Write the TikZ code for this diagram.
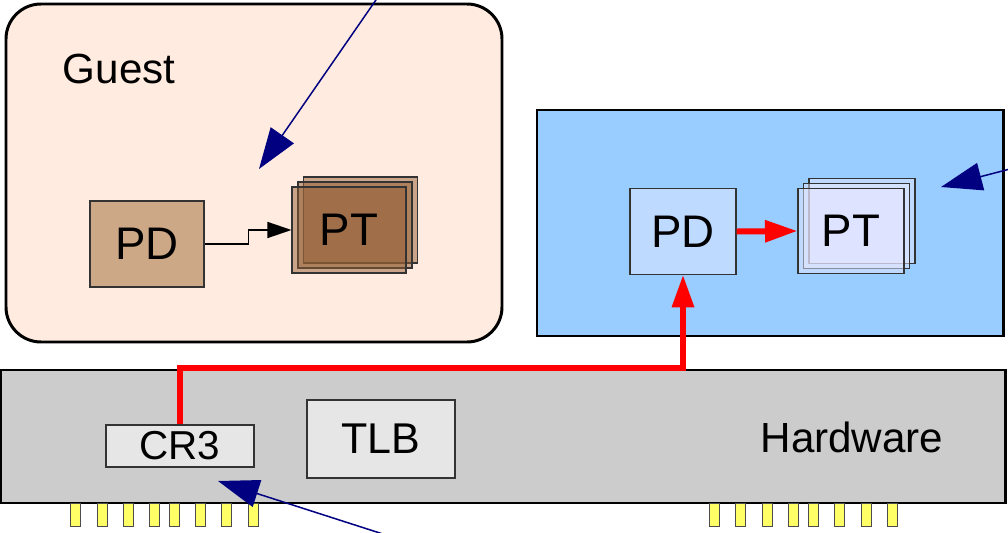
\documentclass[tikz,border=0pt]{standalone}
\usepackage{fontspec}
\setmainfont{Liberation Sans}
\usetikzlibrary{arrows.meta}

\definecolor{guestbg}{HTML}{FFEBDF}
\definecolor{hostbg}{HTML}{99CCFF}
\definecolor{hwbg}{HTML}{CCCCCC}
\definecolor{regbg}{HTML}{E6E6E6}
\definecolor{gpd}{HTML}{CCA886}
\definecolor{gpt}{HTML}{945F35}
\definecolor{hpd}{HTML}{BFDAFF}
\definecolor{hpt}{HTML}{E8E8FF}
\definecolor{pin}{HTML}{FFFF66}
\definecolor{navy}{HTML}{000080}
\definecolor{redline}{HTML}{FF0000}

\tikzset{
  frame/.style={draw=black, line width=1.7pt},
  table/.style={draw=black!80, line width=0.6pt, inner sep=0pt, font=\fontsize{26}{30}\selectfont},
  guesttbl/.style={table, minimum width=2.28cm, minimum height=1.72cm},
  hosttbl/.style={table, minimum width=2.12cm, minimum height=1.71cm},
  layer/.style={draw=black!80, line width=0.6pt, inner sep=0pt, fill opacity=0.5},
  reg/.style={draw=black!80, line width=0.6pt, fill=regbg, inner sep=0pt, minimum width=2.96cm},
  pinrect/.style={draw=black!70, line width=0.55pt, fill=pin},
  walk/.style={redline, line width=3.4pt, line join=miter, -{Triangle[length=0.65cm, width=0.42cm]}},
  hint/.style={navy, line width=0.85pt, -{Triangle[length=0.82cm, width=0.56cm]}},
  label/.style={font=\fontsize{24}{28}\selectfont, inner sep=0pt}
}

\begin{document}
\begin{tikzpicture}[x=0.02cm, y=-0.02cm]
\useasboundingbox (0,0) rectangle (1008,533);

% guest area
\draw[frame, fill=guestbg, rounded corners=0.7cm] (6,4) rectangle (502,342);
\node[label] (guest) at (119,69) {Guest};

% host area
\draw[frame, fill=hostbg] (537,110) rectangle (1003,336);

% hardware block
\draw[frame, fill=hwbg] (1,370) rectangle (1005,503);
\node[label] (hw) at (852,437) {Hardware};

% pins
\foreach \x in {70,97,123,149,169,195,221,248,709,735,762,788,808,834,861,887}
  \draw[pinrect] (\x,503) rectangle ++(10,23);

% registers
\node[reg, minimum height=0.84cm, font=\fontsize{23}{27}\selectfont] (cr3) at (180,446) {CR3};
\node[reg, minimum height=1.56cm, font=\fontsize{24.5}{29}\selectfont] (tlb) at (381,439) {TLB};

% guest page tables
\node[guesttbl, fill=gpd] (gPD) at (147,244) {PD};
\node[guesttbl, layer, fill=gpt] (gPTc) at (360.5,220) {};
\node[guesttbl, layer, fill=gpt] (gPTb) at (355,225) {};
\node[guesttbl, layer, fill=gpt] (gPTa) at (349,230) {};
\node[guesttbl, draw=none, fill=none] (gPT) at (349,230) {PT};

% host page tables
\node[hosttbl, fill=hpd] (hPD) at (683,231.5) {PD};
\node[hosttbl, layer, fill=hpt] (hPTc) at (862,221) {};
\node[hosttbl, layer, fill=hpt] (hPTb) at (856.5,226) {};
\node[hosttbl, layer, fill=hpt] (hPTa) at (851,231) {};
\node[hosttbl, draw=none, fill=none] (hPT) at (851,231) {PT};

% guest link PD -> PT
\draw[black, line width=0.8pt, -{Triangle[length=0.48cm, width=0.32cm]}]
  (gPD.east) -- ++(44,0) |- (gPT.west);

% hardware walk CR3 -> PD -> PT
\draw[walk] (cr3.north) -- ++(0,-56) -| (hPD.south);
\draw[walk] (hPD.east) -- (hPT.west);

% pointer arrows
\coordinate (p1s) at (378,-3);
\coordinate (p1e) at (259,169);
\coordinate (p2s) at (1010,169);
\coordinate (p2e) at (941,187);
\coordinate (p3s) at (386,535);
\coordinate (p3e) at (218,481);
\draw[hint] (p1s) -- (p1e);
\draw[hint] (p2s) -- (p2e);
\draw[hint] (p3s) -- (p3e);
\end{tikzpicture}
\end{document}
